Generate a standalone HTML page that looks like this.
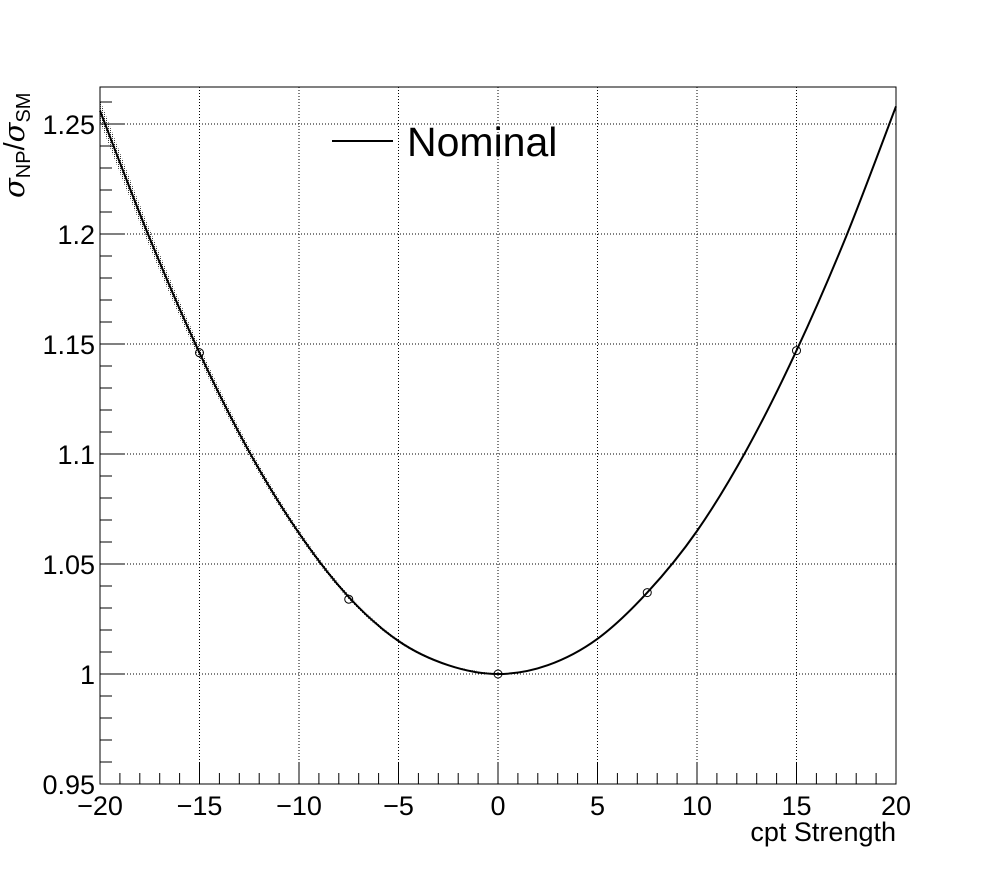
<!DOCTYPE html>
<html><head><meta charset="utf-8"><style>
html,body{margin:0;padding:0;background:#fff;}
svg{display:block;font-family:"Liberation Sans",sans-serif;}
</style></head><body>
<svg id="chart" width="996" height="872" xmlns="http://www.w3.org/2000/svg">
<defs><pattern id="dots" width="2" height="2" patternUnits="userSpaceOnUse"><rect width="1" height="1" fill="#000"/></pattern></defs>
<rect width="996" height="872" fill="#fff"/>
<g id="grid"></g>
<g id="band"></g>
<g id="series"></g>
<g id="axes"></g>
<g>
<line x1="332" y1="141" x2="393" y2="141" stroke="#000" stroke-width="2"/>
<text x="407" y="156" font-size="41">Nominal</text>
</g>
<text x="896" y="841" font-size="27" text-anchor="end">cpt Strength</text>
<text transform="translate(24,198) rotate(-90)" font-size="29"><tspan font-style="italic" font-family="DejaVu Serif, serif">σ</tspan><tspan font-size="20" dy="6">NP</tspan><tspan dy="-6">/</tspan><tspan font-style="italic" font-family="DejaVu Serif, serif">σ</tspan><tspan font-size="20" dy="6">SM</tspan></text>
</svg>
<script>
const curveX=[-20,-17.5,-15,-12.5,-10,-7.5,-5,-2.5,0,2.5,5,7.5,10,12.5,15,17.5,20];
const curveY=[1.256,1.198,1.146,1.101,1.064,1.035,1.015,1.004,1.0,1.004,1.016,1.037,1.065,1.102,1.147,1.199,1.258];
const bandHalf=[0.005,0.004,0.003,0.0022,0.0015,0.001,0.0006,0.0003,0,0,0,0,0,0,0,0,0];
const pointX=[-15,-7.5,0,7.5,15];
const pointY=[1.146,1.034,1.0,1.037,1.147];
const xTicks=[-20,-15,-10,-5,0,5,10,15,20];
const xTickLabels=["\u221220","\u221215","\u221210","\u22125","0","5","10","15","20"];
const yTicks=[0.95,1.0,1.05,1.1,1.15,1.2,1.25];
const yTickLabels=["0.95","1","1.05","1.1","1.15","1.2","1.25"];
const X0=100,X1=896,Y0=784,Y1=87,xmin=-20,xmax=20,ymin=0.95;
const sx=v=>X0+(v-xmin)*(X1-X0)/(xmax-xmin);
const sy=v=>Y0-(v-ymin)*2200;
const NS="http://www.w3.org/2000/svg";
function mk(tag,attrs,parent){const e=document.createElementNS(NS,tag);for(const k in attrs)e.setAttribute(k,attrs[k]);parent.appendChild(e);return e;}
const grid=document.getElementById('grid'),axes=document.getElementById('axes'),series=document.getElementById('series'),band=document.getElementById('band');
xTicks.forEach(v=>{if(v>xmin&&v<xmax){const l=mk('line',{x1:sx(v),x2:sx(v),y1:Y0,y2:Y1,stroke:'#000','stroke-width':1,'stroke-dasharray':'1,2'},grid);

}});
yTicks.forEach(v=>{if(v>ymin){const l=mk('line',{x1:X0,x2:X1,y1:sy(v),y2:sy(v),stroke:'#000','stroke-width':1,'stroke-dasharray':'1,2'},grid);

}});
const fr=mk('rect',{x:X0,y:Y1,width:X1-X0,height:Y0-Y1,fill:'none',stroke:'#000','stroke-width':1},axes);


for(let v=xmin;v<=xmax;v+=1){const major=(v%5===0);const t=mk('line',{x1:sx(v),x2:sx(v),y1:Y0,y2:Y0-(major?22:11),stroke:'#000','stroke-width':1},axes);

}
for(let i=0;i<=31;i++){const v=ymin+i*0.01;const major=(i%5===0);const t=mk('line',{x1:X0,x2:X0+(major?24:12),y1:sy(v),y2:sy(v),stroke:'#000','stroke-width':1},axes);

}
xTicks.forEach((v,i)=>{const t=mk('text',{x:sx(v),y:815,'font-size':27,'text-anchor':'middle'},axes);t.textContent=xTickLabels[i];

});
yTicks.forEach((v,i)=>{const t=mk('text',{x:95,y:sy(v)+10,'font-size':27,'text-anchor':'end'},axes);t.textContent=yTickLabels[i];

});
function pts(xs,ys){return xs.map((x,i)=>[sx(x),sy(ys[i])]);}
function smoothP(P,start){let d=(start?'M':'L')+P[0][0]+','+P[0][1];
for(let i=0;i<P.length-1;i++){const p0=P[Math.max(0,i-1)],p1=P[i],p2=P[i+1],p3=P[Math.min(P.length-1,i+2)];
d+=` C${p1[0]+(p2[0]-p0[0])/6},${p1[1]+(p2[1]-p0[1])/6} ${p2[0]-(p3[0]-p1[0])/6},${p2[1]-(p3[1]-p1[1])/6} ${p2[0]},${p2[1]}`;}return d;}
// band only where it has width
let n=bandHalf.findIndex(b=>b===0)+1;
const bx=curveX.slice(0,n);
const up=pts(bx,curveY.slice(0,n).map((y,i)=>y+bandHalf[i]));
const lo=pts(bx,curveY.slice(0,n).map((y,i)=>y-bandHalf[i])).reverse();
const bp=mk('path',{d:smoothP(up,true)+' '+smoothP(lo,false)+' Z',fill:'url(#dots)',stroke:'none',opacity:0.8},band);


const c=mk('path',{d:smoothP(pts(curveX,curveY),true),fill:'none',stroke:'#000','stroke-width':2},series);


pointX.forEach((x,i)=>{const p=mk('circle',{cx:sx(x),cy:sy(pointY[i]),r:4,fill:'none',stroke:'#000','stroke-width':1},series);

});
</script>
</body></html>
